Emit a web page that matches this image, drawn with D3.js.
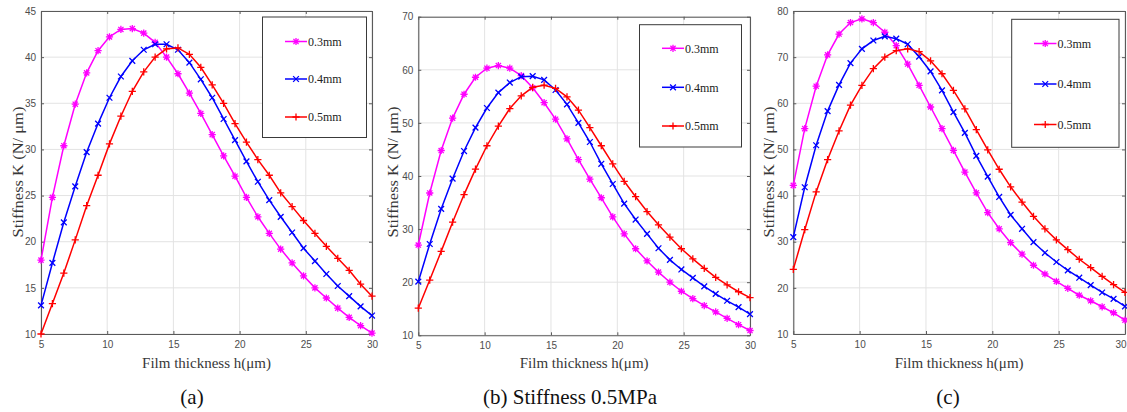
<!DOCTYPE html>
<html>
<head>
<meta charset="utf-8">
<script src="https://cdn.jsdelivr.net/npm/d3@7"></script>
<style>
  body { margin: 0; background: #fff; }
  svg { display: block; }
  .tick text { font-family: "Liberation Sans", Arial, sans-serif; font-size: 10px; fill: #4d4d4d; }
  .axisLabel { font-family: "Liberation Serif", "Times New Roman", serif; font-size: 15px; fill: #383838; }
  .caption { font-family: "Liberation Serif", "Times New Roman", serif; font-size: 21px; fill: #111; }
  .legendText { font-family: "Liberation Serif", "Times New Roman", serif; font-size: 12px; fill: #222; }
</style>
</head>
<body>
<div id="chart"></div>
<script>

// film thickness h (um), 30 samples from 5 to 30
var filmThickness = [5, 5.862, 6.724, 7.586, 8.448, 9.310, 10.172, 11.034, 11.897, 12.759,
  13.621, 14.483, 15.345, 16.207, 17.069, 17.931, 18.793, 19.655, 20.517, 21.379,
  22.241, 23.103, 23.966, 24.828, 25.690, 26.552, 27.414, 28.276, 29.138, 30];

var seriesNames = ["0.3mm", "0.4mm", "0.5mm"];
var xTicks = [5, 10, 15, 20, 25, 30];

// (a)
var stiffA03 = [18.0, 24.8, 30.4, 34.9, 38.3, 40.7, 42.2, 43.0, 43.1, 42.6, 41.6, 40.0, 38.2, 36.1, 33.9,
  31.6, 29.3, 27.1, 24.8, 22.7, 20.9, 19.2, 17.7, 16.3, 15.0, 13.9, 12.8, 11.8, 10.9, 10.1];
var stiffA04 = [13.1, 17.7, 22.1, 26.0, 29.7, 32.8, 35.6, 37.9, 39.6, 40.8, 41.4, 41.4, 40.8, 39.4, 37.6,
  35.6, 33.3, 31.0, 28.7, 26.5, 24.5, 22.7, 21.0, 19.3, 17.9, 16.5, 15.2, 14.1, 13.0, 12.0];
var stiffA05 = [10.0, 13.3, 16.6, 20.2, 23.9, 27.2, 30.6, 33.6, 36.3, 38.4, 40.0, 40.9, 41.0, 40.3, 38.9,
  37.0, 35.0, 32.8, 30.8, 28.9, 27.2, 25.3, 23.8, 22.3, 20.9, 19.5, 18.2, 16.9, 15.4, 14.1];
var yTicksA = [10, 15, 20, 25, 30, 35, 40, 45];

// (b) Stiffness 0.5MPa
var stiffB03 = [27.0, 36.8, 44.8, 50.9, 55.4, 58.6, 60.3, 60.8, 60.3, 58.9, 56.6, 53.8, 50.7, 47.0, 43.1,
  39.4, 35.9, 32.3, 29.1, 26.3, 24.0, 21.9, 20.0, 18.3, 16.9, 15.6, 14.4, 13.2, 12.0, 10.9];
var stiffB04 = [20.1, 27.2, 33.8, 39.5, 44.7, 49.1, 52.8, 55.7, 57.6, 58.7, 58.8, 58.1, 56.2, 53.5, 50.0,
  46.4, 42.3, 38.5, 34.8, 31.8, 29.1, 26.4, 24.2, 22.4, 20.8, 19.2, 17.8, 16.5, 15.3, 14.0];
var stiffB05 = [15.1, 20.4, 25.8, 31.3, 36.5, 41.3, 45.7, 49.4, 52.7, 55.1, 56.7, 57.1, 56.5, 54.9, 52.4,
  49.1, 45.7, 42.3, 39.0, 36.1, 33.3, 30.8, 28.5, 26.3, 24.4, 22.6, 20.9, 19.5, 18.2, 17.1];
var yTicksB = [10, 20, 30, 40, 50, 60, 70];

// (c)
var stiffC03 = [42.2, 54.5, 63.7, 70.5, 75.0, 77.5, 78.3, 77.5, 75.4, 72.5, 68.5, 63.9, 59.2, 54.5, 49.8,
  45.1, 40.6, 36.3, 32.8, 29.8, 27.3, 24.9, 23.0, 21.4, 19.9, 18.4, 17.2, 15.9, 14.6, 13.0];
var stiffC04 = [31.0, 41.8, 50.9, 58.3, 64.0, 68.7, 71.8, 73.6, 74.5, 74.0, 72.8, 70.1, 66.9, 62.8, 58.1,
  53.6, 48.6, 44.1, 39.7, 35.8, 32.8, 29.9, 27.6, 25.6, 23.8, 22.2, 20.6, 19.0, 17.6, 16.0];
var stiffC05 = [24.0, 32.6, 40.8, 47.8, 54.0, 59.6, 63.9, 67.5, 70.0, 71.4, 71.8, 71.2, 69.2, 66.4, 62.8,
  58.8, 54.3, 49.9, 45.7, 41.9, 38.6, 35.5, 32.8, 30.4, 28.3, 26.2, 24.4, 22.5, 20.7, 19.0];
var yTicksC = [10, 20, 30, 40, 50, 60, 70, 80];

var captions = ["(a)", "(b) Stiffness 0.5MPa", "(c)"];

/**
 * One MATLAB style stiffness panel
 */
function StiffnessPanel(svg, opts){
    var self = this;
    self.svg = svg;
    self.opts = opts;
    self.colors = ["#ff00ff", "#0000ff", "#ff0000"];
    self.markers = ["star", "cross", "plus"];
    self.init();
};

StiffnessPanel.prototype.markerPath = function(type, r){
    var p = d3.path();
    if (type == "star" || type == "plus"){
        p.moveTo(-r, 0); p.lineTo(r, 0);
        p.moveTo(0, -r); p.lineTo(0, r);
    }
    if (type == "star" || type == "cross"){
        var d = type == "star" ? r * 0.72 : r * 0.8;
        p.moveTo(-d, -d); p.lineTo(d, d);
        p.moveTo(-d, d); p.lineTo(d, -d);
    }
    return p.toString();
};

StiffnessPanel.prototype.init = function(){
    var self = this;
    var o = self.opts;

    self.x = d3.scaleLinear().domain([5, 30]).range([o.left, o.right]);
    self.y = d3.scaleLinear().domain(o.yDomain).range([o.bottom, o.top]);

    self.g = self.svg.append("g");

    // grid
    self.g.append("g").selectAll("line.vgrid").data(xTicks).enter().append("line")
        .attr("x1", function(d){ return self.x(d); })
        .attr("x2", function(d){ return self.x(d); })
        .attr("y1", o.top).attr("y2", o.bottom)
        .attr("stroke", "#e3e3e3").attr("stroke-width", 1);
    self.g.append("g").selectAll("line.hgrid").data(o.yTicks).enter().append("line")
        .attr("y1", function(d){ return self.y(d); })
        .attr("y2", function(d){ return self.y(d); })
        .attr("x1", o.left).attr("x2", o.right)
        .attr("stroke", "#e3e3e3").attr("stroke-width", 1);

    //axes, ticks pointing inwards like matlab
    var xAxis = d3.axisBottom(self.x).tickValues(xTicks).tickSizeInner(-3).tickSizeOuter(0).tickPadding(7);
    var yAxis = d3.axisLeft(self.y).tickValues(o.yTicks).tickSizeInner(-3).tickSizeOuter(0).tickPadding(6);
    var xTop = d3.axisTop(self.x).tickValues(xTicks).tickSizeInner(-3).tickSizeOuter(0).tickFormat("");
    var yRight = d3.axisRight(self.y).tickValues(o.yTicks).tickSizeInner(-3).tickSizeOuter(0).tickFormat("");

    var ax = self.g.append("g").attr("transform", "translate(0," + o.bottom + ")").call(xAxis);
    var ay = self.g.append("g").attr("transform", "translate(" + o.left + ",0)").call(yAxis);
    var at = self.g.append("g").attr("transform", "translate(0," + o.top + ")").call(xTop);
    var ar = self.g.append("g").attr("transform", "translate(" + o.right + ",0)").call(yRight);
    [ax, ay, at, ar].forEach(function(a){
        a.select(".domain").attr("stroke", "#5a5a5a").attr("stroke-width", 1.1);
        a.selectAll(".tick line").attr("stroke", "#5a5a5a");
    });
    ax.selectAll(".tick text").attr("dy", "0.71em");
    ay.selectAll(".tick text").attr("dx", "0.1em");

    // last x label of the right panel hits the page edge
    if (o.right > 1120){
        ax.selectAll(".tick text").filter(function(d){ return d == 30; })
            .attr("text-anchor", "end").attr("x", 1126 - o.right);
    }

    // labels
    self.g.append("text").attr("class", "axisLabel")
        .attr("x", (o.left + o.right) / 2).attr("y", 368)
        .attr("text-anchor", "middle")
        .text("Film thickness h(\u03bcm)");
    self.g.append("text").attr("class", "axisLabel")
        .attr("transform", "translate(" + o.ylabelX + ",172) rotate(-90) scale(1.1,1)")
        .attr("text-anchor", "middle")
        .attr("dy", "0.35em")
        .text("Stiffness K (N/ \u03bcm)");
    self.g.append("text").attr("class", "caption")
        .attr("x", o.captionX).attr("y", 404)
        .attr("text-anchor", "middle")
        .text(o.caption);
};

StiffnessPanel.prototype.update = function(series){
    var self = this;
    var o = self.opts;

    var line = d3.line()
        .x(function(d, i){ return self.x(filmThickness[i]); })
        .y(function(d){ return self.y(d); });

    series.forEach(function(values, k){
        var sg = self.g.append("g");
        sg.append("path")
            .attr("d", line(values))
            .attr("fill", "none")
            .attr("stroke", self.colors[k])
            .attr("stroke-width", 1.5);
        sg.selectAll("path.mk").data(values).enter().append("path")
            .attr("class", "mk")
            .attr("transform", function(d, i){
                return "translate(" + self.x(filmThickness[i]) + "," + self.y(d) + ")";
            })
            .attr("d", self.markerPath(self.markers[k], 3.6))
            .attr("fill", "none")
            .attr("stroke", self.colors[k])
            .attr("stroke-width", 1.3);
    });

    // legend box
    var lg = self.g.append("g");
    lg.append("rect")
        .attr("x", o.legend.x).attr("y", o.legend.y)
        .attr("width", o.legend.w).attr("height", o.legend.h)
        .attr("fill", "#fff").attr("stroke", "#3a3a3a").attr("stroke-width", 1);
    seriesNames.forEach(function(name, k){
        var ly = o.legend.rows[k];
        lg.append("line")
            .attr("x1", o.legend.lx1).attr("x2", o.legend.lx2)
            .attr("y1", ly).attr("y2", ly)
            .attr("stroke", self.colors[k]).attr("stroke-width", 1.5);
        lg.append("path")
            .attr("transform", "translate(" + (o.legend.lx1 + o.legend.lx2) / 2 + "," + ly + ")")
            .attr("d", self.markerPath(self.markers[k], 3.6))
            .attr("fill", "none")
            .attr("stroke", self.colors[k]).attr("stroke-width", 1.3);
        lg.append("text").attr("class", "legendText")
            .attr("x", o.legend.lx2 + 1).attr("y", ly)
            .attr("dy", "0.35em")
            .text(name);
    });
};

var svg = d3.select("#chart").append("svg")
    .attr("width", 1127)
    .attr("height", 412);

var panelA = new StiffnessPanel(svg, {
    left: 41, right: 372, top: 11, bottom: 334,
    yDomain: [10, 45], yTicks: yTicksA, ylabelX: 17.5,
    caption: captions[0], captionX: 192,
    legend: {x: 262.5, y: 17, w: 104, h: 120.5, lx1: 285, lx2: 307, rows: [41.5, 79, 117]}
});
panelA.update([stiffA03, stiffA04, stiffA05]);

var panelB = new StiffnessPanel(svg, {
    left: 418.3, right: 750, top: 16.7, bottom: 335.3,
    yDomain: [10, 70], yTicks: yTicksB, ylabelX: 393,
    caption: captions[1], captionX: 570,
    legend: {x: 639.5, y: 24.7, w: 102, h: 122.3, lx1: 662, lx2: 684, rows: [48.3, 87.3, 126]}
});
panelB.update([stiffB03, stiffB04, stiffB05]);

var panelC = new StiffnessPanel(svg, {
    left: 793.3, right: 1125, top: 11, bottom: 334,
    yDomain: [10, 80], yTicks: yTicksC, ylabelX: 769,
    caption: captions[2], captionX: 948,
    legend: {x: 1011.7, y: 19.3, w: 107.3, h: 128, lx1: 1034, lx2: 1056.5, rows: [43.5, 84, 124.5]}
});
panelC.update([stiffC03, stiffC04, stiffC05]);

</script>
</body>
</html>
